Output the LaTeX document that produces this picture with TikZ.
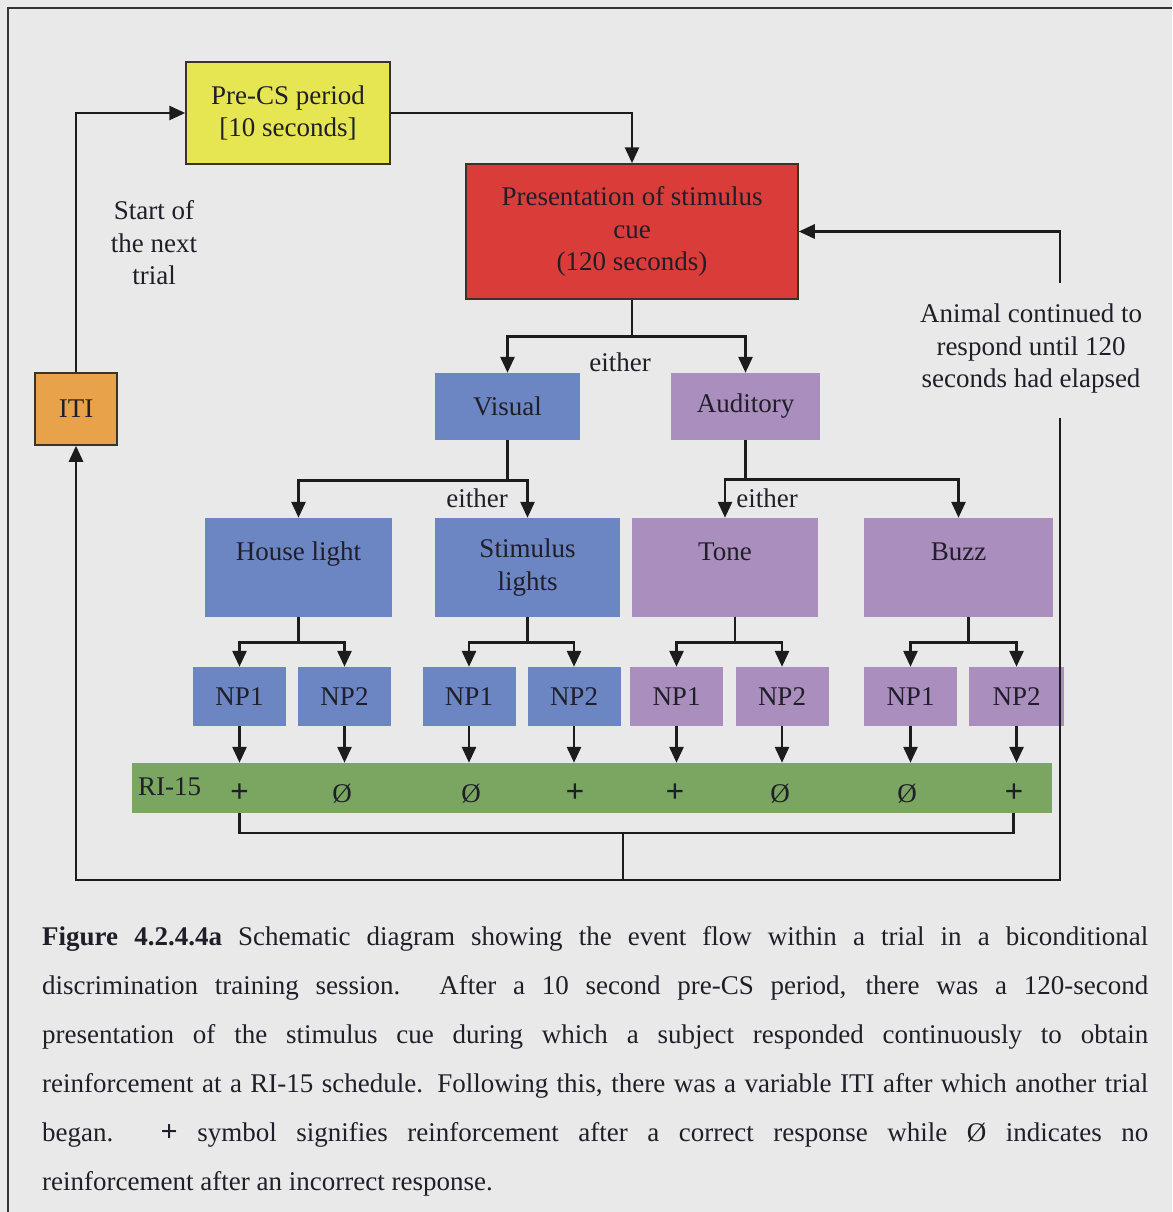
\documentclass[tikz,border=0pt]{standalone}
\usepackage{fontspec}
\setmainfont{Liberation Serif}
\usetikzlibrary{arrows.meta}
\definecolor{bg}{RGB}{233,233,233}
\definecolor{cyellow}{RGB}{230,230,82}
\definecolor{cred}{RGB}{218,60,58}
\definecolor{corange}{RGB}{232,162,74}
\definecolor{cblue}{RGB}{108,134,196}
\definecolor{cpurple}{RGB}{170,142,190}
\definecolor{cgreen}{RGB}{122,166,98}
\definecolor{linec}{RGB}{28,28,28}
\definecolor{bord}{RGB}{60,50,40}
\definecolor{txt}{RGB}{32,30,40}
\newcommand\dfont{\fontsize{27}{32.5}\selectfont}
\newcommand\capfont{\fontsize{27}{49}\selectfont}
\newcommand\plusmark{{\fontsize{33}{33}\selectfont\textbf{+}}}
\tikzset{
  lin/.style={draw=linec, line width=2.8pt},
  arr/.style={lin, -{Triangle[length=16pt,width=14pt]}},
  box/.style={rectangle, inner sep=0pt, align=center, font=\dfont, text=txt},
  bordered/.style={box, draw=bord, line width=1.5pt},
  lvl3/.style={box, minimum height=99pt},
  npbox/.style={box, minimum width=93pt, minimum height=59pt},
  lbl/.style={font=\dfont, text=txt, align=center, inner sep=0pt},
  sym/.style={font=\dfont, text=txt, inner sep=0pt},
  frame/.style={draw=linec!90, line width=1.8pt}
}
\begin{document}
\begin{tikzpicture}[x=1pt,y=-1pt]
\useasboundingbox (0,0) rectangle (1172,1212);
\fill[bg] (0,0) rectangle (1172,1212);
\draw[frame] (8,1212) -- (8,8) -- (1172,8);

% top boxes
\node[bordered, fill=cyellow, minimum width=204pt, minimum height=102pt] (pre) at (288,113) {Pre-CS period\\{[}10 seconds{]}};
\node[bordered, fill=cred, minimum width=332pt, minimum height=135pt] (pres) at (632,231.5) {Presentation of stimulus\\cue\\(120 seconds)};
\node[bordered, fill=corange, minimum width=82pt, minimum height=72pt] (iti) at (76,409) {ITI};

% modality
\node[box, fill=cblue, minimum width=145pt, minimum height=67pt] (vis) at (507.5,406.5) {Visual};
\node[box, fill=cpurple, minimum width=149pt, minimum height=67pt] (aud) at (745.5,406.5) {Auditory};

% stimuli
\node[lvl3, fill=cblue, minimum width=187pt] (house) at (298.5,567.5) {House light\\\mbox{}};
\node[lvl3, fill=cblue, minimum width=185pt] (stim) at (527.5,567.5) {Stimulus\\lights};
\node[lvl3, fill=cpurple, minimum width=186pt] (tone) at (725,567.5) {Tone\\\mbox{}};
\node[lvl3, fill=cpurple, minimum width=189pt] (buzz) at (958.5,567.5) {Buzz\\\mbox{}};

% nose pokes
\node[npbox, fill=cblue] (hl1) at (239.5,696.5) {NP1};
\node[npbox, fill=cblue] (hl2) at (344.5,696.5) {NP2};
\node[npbox, fill=cblue] (sl1) at (469,696.5) {NP1};
\node[npbox, fill=cblue] (sl2) at (574,696.5) {NP2};
\node[npbox, fill=cpurple] (t1) at (676.5,696.5) {NP1};
\node[npbox, fill=cpurple] (t2) at (782,696.5) {NP2};
\node[npbox, fill=cpurple] (b1) at (910.5,696.5) {NP1};
\node[npbox, fill=cpurple, minimum width=95pt] (b2) at (1016.5,696.5) {NP2};

% RI-15 bar
\node[fill=cgreen, minimum width=920pt, minimum height=50pt, inner sep=0pt] (ri) at (592,788) {};
\node[sym, anchor=west] (rilab) at (138,787) {RI-15};
\node[sym] (r1) at (239.5,793) {\plusmark};
\node[sym] (r2) at (342,794) {Ø};
\node[sym] (r3) at (471,794) {Ø};
\node[sym] (r4) at (575,793) {\plusmark};
\node[sym] (r5) at (675,793) {\plusmark};
\node[sym] (r6) at (780,794) {Ø};
\node[sym] (r7) at (907,794) {Ø};
\node[sym] (r8) at (1014,793) {\plusmark};

% free labels
\node[lbl] (start) at (154,243) {Start of\\the next\\trial};
\node[lbl] (animal) at (1031,349) {Animal continued to\\respond until 120\\seconds had elapsed};
\node[lbl] (e1) at (620,362) {either};
\node[lbl] (e2) at (477,498) {either};
\node[lbl] (e3) at (767,498) {either};

% connectors: top loop
\draw[arr] (iti.north) |- (pre.west);
\draw[arr] (pre.east) -| (pres.north);
\coordinate (rtop) at (1060,283);
\draw[arr] (rtop) |- (pres.east);

% presentation -> modality
\draw[lin] (pres.south) -- ++(0,37) coordinate (j1);
\draw[arr] (j1) -| (vis.north);
\draw[arr] (j1) -| (aud.north);

% modality -> stimuli
\draw[lin] (vis.south) -- ++(0,40) coordinate (j2);
\draw[arr] (j2) -| (house.north);
\draw[arr] (j2) -| (stim.north);
\draw[lin] (aud.south) -- ++(0,39) coordinate (j3);
\draw[arr] (j3) -| (tone.north);
\draw[arr] (j3) -| (buzz.north);

% stimuli -> nose pokes
\draw[lin] (house.south) -- ++(0,25) coordinate (k1);
\draw[arr] (k1) -| (hl1.north);
\draw[arr] (k1) -| (hl2.north);
\draw[lin] (stim.south) -- ++(0,25) coordinate (k2);
\draw[arr] (k2) -| (sl1.north);
\draw[arr] (k2) -| (sl2.north);
\draw[lin] ([xshift=10pt]tone.south) -- ++(0,25) coordinate (k3);
\draw[arr] (k3) -| (t1.north);
\draw[arr] (k3) -| (t2.north);
\draw[lin] ([xshift=10pt]buzz.south) -- ++(0,25) coordinate (k4);
\draw[arr] (k4) -| (b1.north);
\draw[arr] (k4) -| (b2.north);

% nose pokes -> RI-15
\foreach \n in {hl1,hl2,sl1,sl2,t1,t2,b1,b2}
  \draw[arr] (\n.south) -- (\n.south |- ri.north);

% bottom return
\draw[lin, line width=2.2pt] (hl1.south |- ri.south) -- ++(0,20) -| ([xshift=-3pt]b2.south |- ri.south);
\coordinate (jb) at (623,833);
\coordinate (jc) at (623,880);
\coordinate (rbot) at (1060,418);
\draw[arr] (jb) -- (jc) -| (iti.south);
\draw[lin] (jc) -| (rbot);

% caption
\node[anchor=north west, inner sep=0pt, text width=1106pt, align=justify, font=\capfont, text=txt] (cap) at (42,926)
{\textbf{Figure 4.2.4.4a} Schematic diagram showing the event flow within a trial in a biconditional\linebreak
discrimination training session.  After a 10 second pre-CS period, there was a 120-second\linebreak
presentation of the stimulus cue during which a subject responded continuously to obtain\linebreak
reinforcement at a RI-15 schedule.  Following this, there was a variable ITI after which another trial\linebreak
began.  {\fontsize{30}{30}\selectfont\textbf{+}} symbol signifies reinforcement after a correct response while Ø indicates no\linebreak
reinforcement after an incorrect response.};
\end{tikzpicture}
\end{document}
